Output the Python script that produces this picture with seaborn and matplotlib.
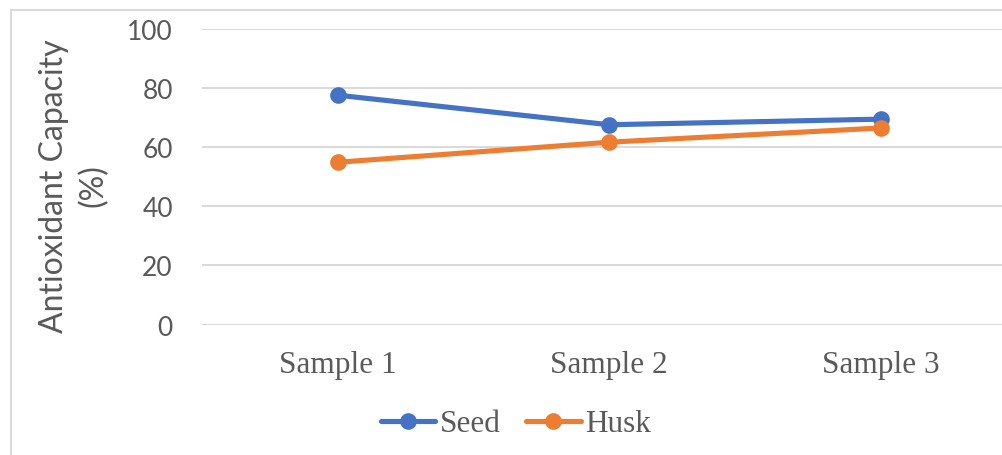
import matplotlib
matplotlib.use("Agg")
import matplotlib.pyplot as plt
from matplotlib.lines import Line2D
import seaborn as sns
import pandas as pd

# Antioxidant capacity (%) for seed and husk extracts
samples = ["Sample 1", "Sample 2", "Sample 3"]
seed = [77.6, 67.6, 69.5]
husk = [54.9, 61.7, 66.5]
series_names = ["Seed", "Husk"]
colors = ["#4472C4", "#ED7D31"]
y_ticks = [0, 20, 40, 60, 80, 100]

df = pd.DataFrame({
    "sample": samples * 2,
    "value": seed + husk,
    "series": [series_names[0]] * 3 + [series_names[1]] * 3,
})

sns.set_theme(style="white")
text_color = "#595959"
grid_color = "#D9D9D9"

W, H = 1003, 456
fig = plt.figure(figsize=(W / 100, H / 100), dpi=100)

# plot area (pixel-based placement; the category band runs past the right edge)
left_px, right_px, top_px, bottom_px = 202, 1016.5, 30, 325.5
ax = fig.add_axes([left_px / W, (H - bottom_px) / H,
                   (right_px - left_px) / W, (bottom_px - top_px) / H])

sns.lineplot(data=df, x="sample", y="value", hue="series",
             palette=dict(zip(series_names, colors)), sort=False,
             marker="o", markersize=12, markeredgewidth=0,
             linewidth=3.7, legend=False, ax=ax, zorder=3)

ax.set_xlim(-0.5, 2.5)
ax.set_ylim(0, 100)
ax.set_yticks(y_ticks)
ax.set_yticklabels([str(t) for t in y_ticks], family="Lato", fontsize=19,
                   color=text_color)
ax.set_xticks(range(len(samples)))
ax.set_xticklabels(samples, family="Liberation Serif", fontsize=22.5,
                   color=text_color)
ax.tick_params(axis="y", length=0, pad=21)
ax.tick_params(axis="x", length=0, pad=18)
ax.grid(axis="y", color=grid_color, linewidth=1.4)
ax.grid(axis="x", visible=False)
for s in ax.spines.values():
    s.set_visible(False)

ax.set_xlabel("")
ax.set_ylabel("Antioxidant Capacity\n(%)", family="Lato", fontsize=23,
              color=text_color, multialignment="center", linespacing=1.35)
ax.yaxis.label.set_verticalalignment("center")
ax.yaxis.set_label_coords((74 - left_px) / (right_px - left_px),
                          (bottom_px - 186) / (bottom_px - top_px))

handles = [Line2D([], [], color=c, linewidth=3.7, marker="o", markersize=12,
                  markeredgewidth=0) for c in colors]
fig.legend(handles, series_names, loc="center", bbox_to_anchor=(516 / W, (H - 425) / H),
           ncol=2, frameon=False, handlelength=1.75, handletextpad=0.15,
           columnspacing=0.8, prop={"family": "Liberation Serif", "size": 22.5},
           labelcolor=text_color)

# chart frame (top and left edges visible)
fig.add_artist(Line2D([10.5 / W, 10.5 / W], [0, (H - 10.5) / H],
                      transform=fig.transFigure, color=grid_color, linewidth=1.5))
fig.add_artist(Line2D([10.5 / W, 1], [(H - 10.5) / H, (H - 10.5) / H],
                      transform=fig.transFigure, color=grid_color, linewidth=1.5))

fig.savefig("out.png", dpi=100, facecolor="white")
